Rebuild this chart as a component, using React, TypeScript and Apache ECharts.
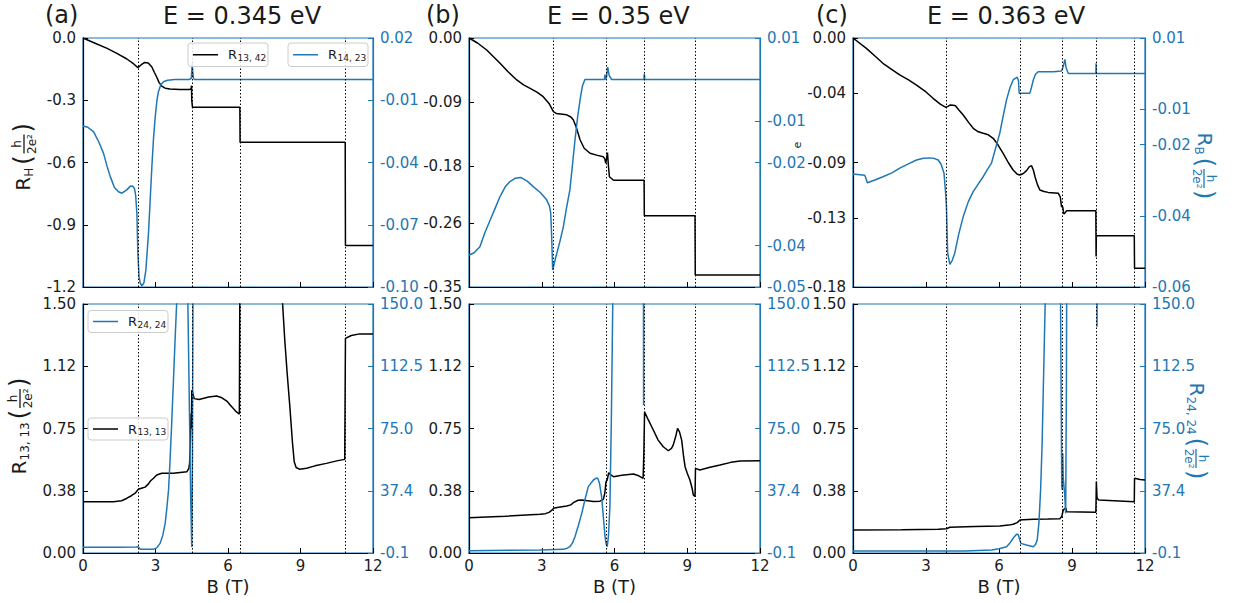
import React, { useEffect, useRef } from 'react';
import * as echarts from 'echarts';

const BLUE = '#1f77b4';
const INK = '#1a1a1a';
const FONT = '"DejaVu Sans", sans-serif';

// ---------- axis ticks ----------
const xTicks = [0, 3, 6, 9, 12];
const hallTicksA = [0, -0.3, -0.6, -0.9, -1.2];
const hallLabelsA = ['0.0', '-0.3', '-0.6', '-0.9', '-1.2'];
const hallTicksB = [0, -0.09, -0.18, -0.26, -0.35];
const hallLabelsB = ['0.00', '-0.09', '-0.18', '-0.26', '-0.35'];
const hallTicksC = [0, -0.04, -0.09, -0.13, -0.18];
const hallLabelsC = ['0.00', '-0.04', '-0.09', '-0.13', '-0.18'];
const rbTicksA = [0.02, -0.01, -0.04, -0.07, -0.10];
const rbLabelsA = ['0.02', '-0.01', '-0.04', '-0.07', '-0.10'];
const rbTicksB = [0.01, -0.01, -0.02, -0.04, -0.05];
const rbLabelsB = ['0.01', '-0.01', '-0.02', '-0.04', '-0.05'];
const rbTicksC = [0.01, -0.01, -0.02, -0.04, -0.06];
const rbLabelsC = ['0.01', '-0.01', '-0.02', '-0.04', '-0.06'];
const r13Ticks = [0, 0.375, 0.75, 1.125, 1.5];
const r13Labels = ['0.00', '0.38', '0.75', '1.12', '1.50'];
const r24Ticks = [-0.1, 37.425, 74.95, 112.475, 150];
const r24Labels = ['-0.1', '37.4', '75.0', '112.5', '150.0'];

const titles = ['E = 0.345 eV', 'E = 0.35 eV', 'E = 0.363 eV'];
const letters = ['(a)', '(b)', '(c)'];

// ---------- vertical dotted markers (B in T) ----------
const vlinesA = [2.27, 4.5, 6.5, 10.86];
const vlinesB = [3.48, 5.65, 7.23, 9.33];
const vlinesC = [3.84, 6.86, 8.6, 9.99, 11.57];

// ---------- panel (a) ----------
const rH_a: [number, number][] = [
  [0, 0], [0.5, -0.025], [1.0, -0.05], [1.4, -0.074], [1.8, -0.1], [2.1, -0.125], [2.27, -0.143],
  [2.4, -0.13], [2.55, -0.118], [2.7, -0.12], [2.85, -0.14], [2.95, -0.165], [3.05, -0.188],
  [3.15, -0.215], [3.26, -0.232], [3.4, -0.242], [3.6, -0.246], [4.0, -0.248], [4.4, -0.248],
  [4.47, -0.246], [4.49, -0.23], [4.5, -0.3], [4.53, -0.334], [6.49, -0.334], [6.5, -0.503],
  [10.85, -0.503], [10.86, -1.0], [12, -1.0],
];
const rB_a: [number, number][] = [
  [0, -0.0224], [0.2, -0.023], [0.44, -0.0252], [0.65, -0.03], [0.85, -0.0356], [1.0, -0.042],
  [1.13, -0.0468], [1.3, -0.052], [1.47, -0.0541], [1.61, -0.0548], [1.81, -0.0532], [1.95, -0.0515],
  [2.05, -0.0513], [2.13, -0.0525], [2.18, -0.056], [2.23, -0.0645], [2.27, -0.0838], [2.32, -0.095],
  [2.37, -0.0982], [2.44, -0.0994], [2.52, -0.098], [2.6, -0.092], [2.71, -0.0741], [2.78, -0.058],
  [2.85, -0.042], [2.92, -0.028], [2.99, -0.0179], [3.06, -0.01], [3.12, -0.0059], [3.22, -0.0025],
  [3.33, -0.0011], [3.5, -0.0004], [3.8, 0.0], [4.4, 0.0], [4.48, 0.0005], [4.5, 0.004], [4.52, 0.008],
  [4.54, 0.004], [4.57, 0.0005], [4.62, 0.0], [12, 0.0],
];
const r13_a: [number, number][] = [
  [0, 0.309], [1.26, 0.309], [1.6, 0.315], [1.82, 0.33], [2.0, 0.345], [2.16, 0.36], [2.29, 0.384],
  [2.45, 0.392], [2.57, 0.397], [2.7, 0.415], [2.8, 0.435], [2.92, 0.45], [3.05, 0.47], [3.26, 0.48],
  [3.74, 0.48], [4.3, 0.49], [4.38, 0.51], [4.41, 0.54], [4.45, 0.7], [4.47, 0.84], [4.49, 0.75],
  [4.5, 0.98], [4.53, 0.97], [4.6, 0.93], [4.8, 0.925], [5.2, 0.94], [5.53, 0.946], [5.75, 0.935],
  [5.95, 0.915], [6.1, 0.89], [6.22, 0.87], [6.35, 0.85], [6.47, 0.837], [6.5, 2.0], [8.2, 2.0],
  [8.26, 1.5], [8.35, 1.28], [8.45, 1.08], [8.56, 0.88], [8.67, 0.66], [8.74, 0.55], [8.82, 0.515],
  [8.97, 0.504], [9.25, 0.51], [9.6, 0.525], [10.07, 0.54], [10.5, 0.555], [10.83, 0.564],
  [10.86, 1.293], [11.1, 1.31], [11.45, 1.32], [12, 1.32],
];
const r24_a: [number, number][] = [
  [0, 3.3], [1.5, 3.3], [2.2, 3.5], [2.28, 3.6], [2.37, 2.2], [2.9, 2.1], [3.05, 3.0], [3.19, 5.7],
  [3.3, 10.5], [3.4, 17.8], [3.47, 27], [3.54, 37.9], [3.6, 55], [3.67, 78.1], [3.74, 103],
  [3.81, 128.3], [3.88, 152], [3.95, 200], [4.3, 200], [4.34, 150], [4.4, 90], [4.46, 30], [4.5, 3.5],
  [4.53, 60], [4.55, 150], [4.58, 200], [12, 200],
];

// ---------- panel (b) ----------
const rH_b: [number, number][] = [
  [0, 0], [0.35, -0.007], [0.73, -0.0169], [1.0, -0.026], [1.28, -0.0356], [1.6, -0.047],
  [1.97, -0.059], [2.25, -0.066], [2.52, -0.0707], [2.8, -0.076], [3.06, -0.0825], [3.3, -0.092],
  [3.48, -0.1036], [3.6, -0.106], [4.03, -0.108], [4.2, -0.111], [4.3, -0.115], [4.42, -0.125],
  [4.58, -0.143], [4.75, -0.155], [4.99, -0.162], [5.3, -0.165], [5.54, -0.167], [5.6, -0.17],
  [5.64, -0.176], [5.67, -0.17], [5.71, -0.161], [5.75, -0.18], [5.79, -0.195], [5.96, -0.2],
  [7.22, -0.2], [7.23, -0.25], [9.32, -0.25], [9.33, -0.333], [12, -0.333],
];
const rB_b: [number, number][] = [
  [0, -0.0423], [0.2, -0.0418], [0.45, -0.0403], [0.65, -0.037], [0.87, -0.0339], [1.08, -0.031],
  [1.28, -0.0282], [1.5, -0.0258], [1.69, -0.0246], [1.9, -0.0238], [2.13, -0.0236], [2.4, -0.0245],
  [2.65, -0.0258], [2.95, -0.0273], [3.2, -0.029], [3.32, -0.0305], [3.37, -0.0322], [3.41, -0.038],
  [3.45, -0.0459], [3.55, -0.0435], [3.62, -0.0419], [3.75, -0.039], [3.89, -0.0355], [4.02, -0.031],
  [4.16, -0.0266], [4.26, -0.021], [4.37, -0.0146], [4.48, -0.009], [4.58, -0.0049], [4.68, -0.0015],
  [4.78, 0.0], [5.58, 0.0], [5.61, 0.0012], [5.63, 0.0], [5.67, 0.0005], [5.72, 0.003], [5.78, 0.001],
  [5.88, 0.0], [7.21, 0.0], [7.23, 0.0014], [7.25, 0.0], [12, 0.0],
];
const r13_b: [number, number][] = [
  [0, 0.213], [1.5, 0.222], [2.93, 0.233], [3.15, 0.237], [3.3, 0.245], [3.42, 0.258], [3.48, 0.269],
  [3.7, 0.275], [4.03, 0.283], [4.2, 0.29], [4.3, 0.303], [4.5, 0.318], [4.65, 0.319], [5.13, 0.31],
  [5.4, 0.312], [5.54, 0.323], [5.6, 0.36], [5.65, 0.43], [5.7, 0.44], [5.76, 0.484], [5.85, 0.47],
  [5.96, 0.46], [6.3, 0.468], [6.78, 0.476], [7.0, 0.465], [7.18, 0.45], [7.21, 0.6], [7.24, 0.851],
  [7.4, 0.8], [7.6, 0.741], [7.8, 0.68], [8.01, 0.64], [8.22, 0.616], [8.35, 0.63], [8.42, 0.65],
  [8.52, 0.7], [8.6, 0.751], [8.68, 0.73], [8.77, 0.68], [8.85, 0.58], [8.91, 0.52], [9.0, 0.48],
  [9.11, 0.44], [9.2, 0.39], [9.25, 0.35], [9.32, 0.34], [9.34, 0.51], [9.52, 0.5], [9.9, 0.515],
  [10.35, 0.53], [10.8, 0.546], [11.18, 0.554], [12, 0.556],
];
const r24_b: [number, number][] = [
  [0, 1.3], [2.93, 1.7], [3.89, 2.1], [4.05, 2.8], [4.16, 3.7], [4.27, 6], [4.37, 9.7], [4.5, 16],
  [4.65, 23.8], [4.78, 32], [4.92, 39.9], [5.13, 43.9], [5.25, 45], [5.31, 44.9], [5.38, 42],
  [5.47, 33.8], [5.55, 20], [5.61, 9.7], [5.66, 5], [5.7, 3.7], [5.75, 10], [5.81, 27.8], [5.87, 80],
  [5.93, 152], [5.97, 200], [7.19, 200], [7.2, 89], [7.21, 200], [12, 200],
];

// ---------- panel (c) ----------
const rH_c: [number, number][] = [
  [0, 0], [0.55, -0.0075], [0.9, -0.013], [1.23, -0.0183], [1.6, -0.0228], [1.92, -0.0267],
  [2.3, -0.0305], [2.61, -0.034], [3.0, -0.039], [3.29, -0.0436], [3.6, -0.048], [3.82, -0.0501],
  [3.9, -0.0494], [4.0, -0.0484], [4.12, -0.0486], [4.21, -0.049], [4.35, -0.052], [4.53, -0.0557],
  [4.75, -0.061], [4.94, -0.0653], [5.15, -0.0678], [5.35, -0.0689], [5.56, -0.07], [5.76, -0.0725],
  [5.95, -0.077], [6.17, -0.0834], [6.38, -0.09], [6.58, -0.0954], [6.75, -0.0985], [6.86, -0.099],
  [7.0, -0.098], [7.13, -0.0959], [7.25, -0.093], [7.34, -0.0923], [7.42, -0.096], [7.48, -0.1003],
  [7.58, -0.106], [7.68, -0.1099], [7.85, -0.111], [8.02, -0.1116], [8.44, -0.1123], [8.52, -0.115],
  [8.57, -0.122], [8.62, -0.122], [8.66, -0.127], [8.7, -0.1268], [8.78, -0.1248], [9.98, -0.1248],
  [9.99, -0.158], [10.0, -0.143], [11.56, -0.143], [11.57, -0.1665], [12, -0.1665],
];
const rB_c: [number, number][] = [
  [0, -0.0282], [0.48, -0.0286], [0.52, -0.0292], [0.59, -0.0307], [0.9, -0.0299], [1.23, -0.029],
  [1.6, -0.0279], [1.92, -0.0266], [2.3, -0.0253], [2.61, -0.0243], [2.9, -0.0238], [3.16, -0.0237],
  [3.35, -0.0239], [3.5, -0.0243], [3.62, -0.0255], [3.74, -0.028], [3.8, -0.033], [3.84, -0.0374],
  [3.89, -0.0505], [3.98, -0.0536], [4.08, -0.0525], [4.18, -0.0505], [4.35, -0.045], [4.53, -0.0402],
  [4.74, -0.036], [4.94, -0.0332], [5.15, -0.031], [5.35, -0.029], [5.52, -0.027], [5.69, -0.0252],
  [5.86, -0.021], [6.03, -0.0168], [6.17, -0.012], [6.31, -0.0074], [6.45, -0.004], [6.58, -0.0018],
  [6.75, -0.001], [6.8, -0.002], [6.83, -0.0055], [7.27, -0.0055], [7.33, -0.004], [7.41, -0.0018],
  [7.5, -0.0002], [7.61, 0.0005], [8.23, 0.0005], [8.57, 0.0007], [8.64, 0.002], [8.71, 0.004],
  [8.76, 0.0015], [8.85, 0.0], [9.98, 0.0], [9.99, 0.0029], [10.0, 0.0], [12, 0.0],
];
const r13_c: [number, number][] = [
  [0, 0.139], [2.0, 0.14], [3.5, 0.143], [3.84, 0.146], [3.98, 0.155], [5.0, 0.159], [6.03, 0.163],
  [6.4, 0.168], [6.58, 0.173], [6.75, 0.183], [6.86, 0.199], [7.0, 0.2], [7.41, 0.203], [8.0, 0.205],
  [8.5, 0.207], [8.58, 0.22], [8.64, 0.259], [8.72, 0.27], [8.75, 0.27], [8.78, 0.249], [9.98, 0.245],
  [9.99, 0.32], [10.0, 0.43], [10.03, 0.33], [10.1, 0.319], [11.56, 0.309], [11.57, 0.45],
  [11.8, 0.443], [12, 0.44],
];
const r24_c: [number, number][] = [
  [0, 1.1], [4.6, 1.1], [5.7, 1.7], [6.0, 2.5], [6.31, 3.7], [6.45, 6], [6.58, 8.8], [6.72, 11.2],
  [6.79, 11], [6.85, 8], [6.9, 5.7], [7.13, 4.7], [7.41, 3.7], [7.5, 5], [7.57, 7.7], [7.64, 18],
  [7.71, 37.9], [7.77, 65], [7.82, 98.2], [7.86, 125], [7.9, 152], [7.95, 200], [8.5, 200],
  [8.53, 150], [8.58, 40], [8.6, 37.9], [8.62, 60], [8.64, 45], [8.7, 35], [8.74, 23.8], [8.77, 100],
  [8.79, 200], [10.02, 200], [10.03, 136.3], [10.04, 200], [12, 200],
];

// ---------- layout ----------
const gridLefts = [83, 469, 853];
const gridWidths = [290, 291, 292];
const TOP_Y = 38;
const BOT_Y = 304;
const GH = 249;
const TICK_FS = 15;

const fmt = (ticks: number[], labels: string[]) => (v: number) => {
  const i = ticks.findIndex((t) => Math.abs(t - v) < 1e-7);
  return i >= 0 ? labels[i] : '';
};

function yAxisDef(grid: number, pos: 'left' | 'right', min: number, max: number, ticks: number[], labels: string[]) {
  const col = pos === 'left' ? '#000' : BLUE;
  return {
    type: 'value', gridIndex: grid, position: pos, min, max,
    axisLine: { show: true, onZero: false, lineStyle: { color: col, width: 1.2 } },
    axisTick: { show: true, inside: true, length: 5, customValues: ticks, lineStyle: { color: col, width: 1 } },
    axisLabel: {
      show: true, customValues: ticks, formatter: fmt(ticks, labels),
      color: pos === 'left' ? INK : BLUE, fontSize: TICK_FS, fontFamily: FONT, margin: 7,
    },
    splitLine: { show: false },
  };
}

function xAxisDef(grid: number, bottom: boolean) {
  return {
    type: 'value', gridIndex: grid, min: 0, max: 12, interval: 3,
    axisLine: { show: true, onZero: false, lineStyle: { color: '#000', width: 1.2 } },
    axisTick: { show: true, inside: true, length: 5, customValues: xTicks, lineStyle: { color: '#000' } },
    axisLabel: { show: bottom, customValues: xTicks, color: INK, fontSize: TICK_FS, fontFamily: FONT, margin: 5, showMinLabel: true, showMaxLabel: true },
    splitLine: { show: false },
    name: bottom ? 'B (T)' : '',
    nameLocation: 'middle', nameGap: 24,
    nameTextStyle: { fontSize: 18, color: INK, fontFamily: FONT },
  };
}

function lineSeries(xi: number, yi: number, data: [number, number][], color: string, z: number, vlines?: number[]) {
  const s: any = {
    type: 'line', xAxisIndex: xi, yAxisIndex: yi, data, symbol: 'none', showSymbol: false,
    lineStyle: { color, width: 1.5 }, itemStyle: { color }, z, clip: true, animation: false, silent: true,
  };
  if (vlines) {
    s.markLine = {
      silent: true, symbol: ['none', 'none'], label: { show: false }, animation: false,
      lineStyle: { color: '#000', type: [1.5, 2], width: 1 },
      data: vlines.map((v) => ({ xAxis: v })),
    };
  }
  return s;
}

function txt(x: number, y: number, text: string, size: number, color: string, align = 'left', rotation = 0) {
  return {
    type: 'text', x, y, rotation, z: 100,
    style: {
      text, fill: color, font: `${size}px ${FONT}`,
      align, textAlign: align, verticalAlign: 'middle', textVerticalAlign: 'middle',
    },
  };
}

function fracLabel(cx: number, cy: number, rot: number, sub: string, color: string) {
  const fsR = 20, fsS = 12, fsP = 24, fsF = 12;
  const cw = (c: string) => (c === ',' || c === ' ' ? 0.318 : c === 'H' ? 0.752 : c === 'B' ? 0.686 : 0.636);
  const wR = 0.7 * fsR;
  const wS = [...sub].reduce((s, c) => s + cw(c), 0) * fsS;
  const wP = 0.39 * fsP;
  const wF = 21;
  const total = wR + wS + 3 + wP + 1 + wF + 1 + wP;
  let x = -total / 2;
  const ch: any[] = [];
  ch.push(txt(x, -1, 'R', fsR, color));
  x += wR;
  ch.push(txt(x, 5, sub, fsS, color));
  x += wS + 3;
  ch.push(txt(x, -1, '(', fsP, color));
  x += wP + 1;
  const fc = x + wF / 2;
  ch.push(txt(fc, -7, 'h', fsF, color, 'center'));
  ch.push({ type: 'line', z: 100, shape: { x1: x + 1, y1: 0, x2: x + wF - 1, y2: 0 }, style: { stroke: color, lineWidth: 1.3 } });
  ch.push(txt(fc, 7.5, '2e²', fsF, color, 'center'));
  x += wF + 1;
  ch.push(txt(x, -1, ')', fsP, color));
  return { type: 'group', x: cx, y: cy, rotation: rot, z: 100, children: ch };
}

function legendBox(x: number, y: number, h: number, color: string, sub: string) {
  return {
    type: 'group', x, y, z: 100,
    children: [
      { type: 'rect', z: 100, shape: { x: 0, y: 0, width: 80, height: h, r: 3 }, style: { fill: 'rgba(255,255,255,0.85)', stroke: '#cccccc', lineWidth: 1 } },
      { type: 'line', z: 101, shape: { x1: 5, y1: h / 2, x2: 30, y2: h / 2 }, style: { stroke: color, lineWidth: 1.5 } },
      txt(40, h / 2, 'R', 13, INK),
      txt(49.5, h / 2 + 3, sub, 9, INK),
    ],
  };
}

export default function App() {
  const ref = useRef<HTMLDivElement>(null);
  useEffect(() => {
    if (!ref.current) return;
    const chart = echarts.init(ref.current, undefined, { renderer: 'svg' });

    const hallTicks = [hallTicksA, hallTicksB, hallTicksC];
    const hallLabels = [hallLabelsA, hallLabelsB, hallLabelsC];
    const rbTicks = [rbTicksA, rbTicksB, rbTicksC];
    const rbLabels = [rbLabelsA, rbLabelsB, rbLabelsC];
    const hallData = [rH_a, rH_b, rH_c];
    const rbData = [rB_a, rB_b, rB_c];
    const r13Data = [r13_a, r13_b, r13_c];
    const r24Data = [r24_a, r24_b, r24_c];
    const vlines = [vlinesA, vlinesB, vlinesC];

    const grids: any[] = [];
    const xAxes: any[] = [];
    const yAxes: any[] = [];
    const series: any[] = [];
    for (let p = 0; p < 3; p++) {
      const gt = 2 * p, gb = 2 * p + 1;
      const common = { left: gridLefts[p], width: gridWidths[p], height: GH, show: true, borderColor: BLUE, borderWidth: 1.2, backgroundColor: 'transparent' };
      grids.push({ ...common, top: TOP_Y });
      grids.push({ ...common, top: BOT_Y });
      xAxes.push(xAxisDef(gt, false));
      xAxes.push(xAxisDef(gb, true));
      const ht = hallTicks[p];
      const rt = rbTicks[p];
      yAxes.push(yAxisDef(gt, 'left', ht[ht.length - 1], ht[0], ht, hallLabels[p]));
      yAxes.push(yAxisDef(gt, 'right', rt[rt.length - 1], rt[0], rt, rbLabels[p]));
      yAxes.push(yAxisDef(gb, 'left', 0, 1.5, r13Ticks, r13Labels));
      yAxes.push(yAxisDef(gb, 'right', -0.1, 150, r24Ticks, r24Labels));
      series.push(lineSeries(gt, 4 * p, hallData[p], '#000', 2, vlines[p]));
      series.push(lineSeries(gt, 4 * p + 1, rbData[p], BLUE, 3));
      series.push(lineSeries(gb, 4 * p + 2, r13Data[p], '#000', 2, vlines[p]));
      series.push(lineSeries(gb, 4 * p + 3, r24Data[p], BLUE, 3));
    }

    const graphic: any[] = [
      txt(45, 15, letters[0], 24, INK),
      txt(163, 16, titles[0], 24, INK),
      txt(426, 15, letters[1], 24, INK),
      txt(547, 16, titles[1], 24, INK),
      txt(816, 15, letters[2], 24, INK),
      txt(927, 16, titles[2], 24, INK),
      fracLabel(24, 157, Math.PI / 2, 'H', INK),
      fracLabel(20, 426, Math.PI / 2, '13, 13', INK),
      fracLabel(1204, 166, -Math.PI / 2, 'B', BLUE),
      fracLabel(1196, 431, -Math.PI / 2, '24, 24', BLUE),
      txt(797, 145, 'e', 11, INK, 'center', Math.PI / 2),
      legendBox(188, 43, 23.5, '#000', '13, 42'),
      legendBox(288, 43, 23.5, BLUE, '14, 23'),
      legendBox(88, 310.5, 22, BLUE, '24, 24'),
      legendBox(88, 418, 22, '#000', '13, 13'),
    ];

    chart.setOption({
      animation: false,
      backgroundColor: '#ffffff',
      grid: grids,
      xAxis: xAxes,
      yAxis: yAxes,
      series,
      graphic,
    });
    return () => chart.dispose();
  }, []);
  return <div ref={ref} style={{ position: 'absolute', left: 0, top: 0, width: 1235, height: 603 }} />;
}
